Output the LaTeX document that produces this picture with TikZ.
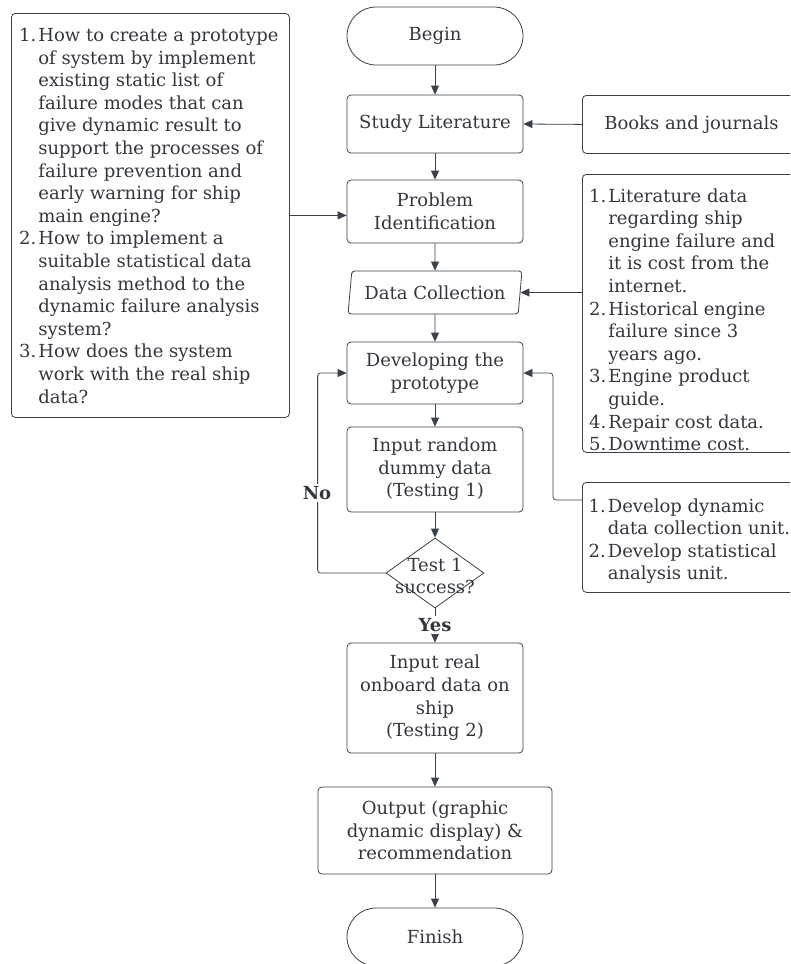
\documentclass[tikz,border=0pt]{standalone}
\usepackage{fontspec}
\setmainfont{DejaVu Serif}
\usetikzlibrary{shapes.geometric,shapes.misc,arrows.meta}
\definecolor{ln}{RGB}{58,65,74}
\definecolor{tx}{RGB}{50,55,62}
\begin{document}
\begin{tikzpicture}[x=1pt,y=-1pt,
  every node/.style={text=tx, font=\fontsize{18}{22.6}\selectfont},
  box/.style={draw=ln, line width=0.8pt, rounded corners=4pt, align=center, inner sep=0pt},
  term/.style={draw=ln, line width=0.8pt, rounded rectangle, minimum width=176pt, minimum height=58pt, inner sep=0pt},
  arr/.style={draw=ln, line width=0.8pt, -{Triangle[length=9pt,width=8pt]}, rounded corners=3pt},
  lbl/.style={fill=white, font=\fontsize{18}{22.6}\selectfont\bfseries, inner sep=2pt},
  lst/.style={anchor=base west, inner sep=0pt}]
\clip (0,0) rectangle (790,964);

% main column
\node[term] (begin) at (435,36) {Begin};
\node[box, minimum width=176, minimum height=58] (study) at (435,124) {Study Literature};
\node[box, minimum width=176, minimum height=63] (prob) at (435,211.5) {Problem\\Identification};
\node[draw=ln, line width=0.8pt, trapezium, trapezium left angle=77, trapezium right angle=103,
      trapezium stretches=true, minimum width=174, minimum height=43, rounded corners=3pt, inner sep=0pt]
      (data) at (435,292.5) {Data Collection};
\node[box, minimum width=176, minimum height=62] (dev) at (435,373) {Developing the\\prototype};
\node[box, minimum width=176, minimum height=85] (in1) at (435,469.5) {Input random\\dummy data\\(Testing 1)};
\node[diamond, draw=ln, line width=0.8pt, minimum width=98, minimum height=70, inner sep=0pt] (dec) at (435,573) {};
\node[align=center, inner sep=0pt] (dect) at (435,576) {Test 1\\success?};
\node[box, minimum width=176, minimum height=110] (in2) at (435,698) {Input real\\onboard data on\\ship\\(Testing 2)};
\node[box, minimum width=234, minimum height=87] (out) at (435,830.5) {Output (graphic\\dynamic display) \&\\recommendation};
\node[term] (fin) at (435,937) {Finish};

% side boxes
\node[box, anchor=north west, minimum width=278, minimum height=404] (qbox) at (11,13) {};
\node[lst] (qtxt) at (19,41.5) {\begin{tabular}[t]{@{}l@{\hspace{2pt}}l@{}}
1. & How to create a prototype\\
   & of system by implement\\
   & existing static list of\\
   & failure modes that can\\
   & give dynamic result to\\
   & support the processes of\\
   & failure prevention and\\
   & early warning for ship\\
   & main engine?\\
2. & How to implement a\\
   & suitable statistical data\\
   & analysis method to the\\
   & dynamic failure analysis\\
   & system?\\
3. & How does the system\\
   & work with the real ship\\
   & data?
\end{tabular}};

\node[box, anchor=north west, minimum width=218, minimum height=58] (books) at (582,95) {Books and journals};

\node[box, anchor=north west, minimum width=218, minimum height=278] (lit) at (582,174) {};
\node[lst] (littxt) at (589,202) {\begin{tabular}[t]{@{}l@{\hspace{2pt}}l@{}}
1. & Literature data\\
   & regarding ship\\
   & engine failure and\\
   & it is cost from the\\
   & internet.\\
2. & Historical engine\\
   & failure since 3\\
   & years ago.\\
3. & Engine product\\
   & guide.\\
4. & Repair cost data.\\
5. & Downtime cost.
\end{tabular}};

\node[box, anchor=north west, minimum width=218, minimum height=110] (dbx) at (582,482) {};
\node[lst] (dbxtxt) at (588.5,512) {\begin{tabular}[t]{@{}l@{\hspace{2pt}}l@{}}
1. & Develop dynamic\\
   & data collection unit.\\
2. & Develop statistical\\
   & analysis unit.
\end{tabular}};

% connectors
\draw[arr] (begin.south) -- (study.north);
\draw[arr] (study.south) -- (prob.north);
\draw[arr] (prob.south) -- (data.north);
\draw[arr] (data.south) -- (dev.north);
\draw[arr] (dev.south) -- (in1.north);
\draw[arr] (in1.south) -- (dec.north);
\draw[arr] (dec.south) -- (in2.north);
\draw[arr] (in2.south) -- (out.north);
\draw[arr] (out.south) -- (fin.north);
\draw[arr] (books.west) -- (study.east);
\draw[arr] (qbox.east) -- (qbox.east -| prob.west);
\draw[arr] (lit.west |- data.east) -- (data.east);
\draw[arr] (dec.west) -- ++(-68,0) |- (dev.west);
\draw[arr] ([yshift=-18pt]dbx.north west) -- ++(-29,0) |- (dev.east);
\node[lbl] (no) at (317,493) {No};
\node[lbl] (yes) at (435,625) {Yes};
\end{tikzpicture}
\end{document}
